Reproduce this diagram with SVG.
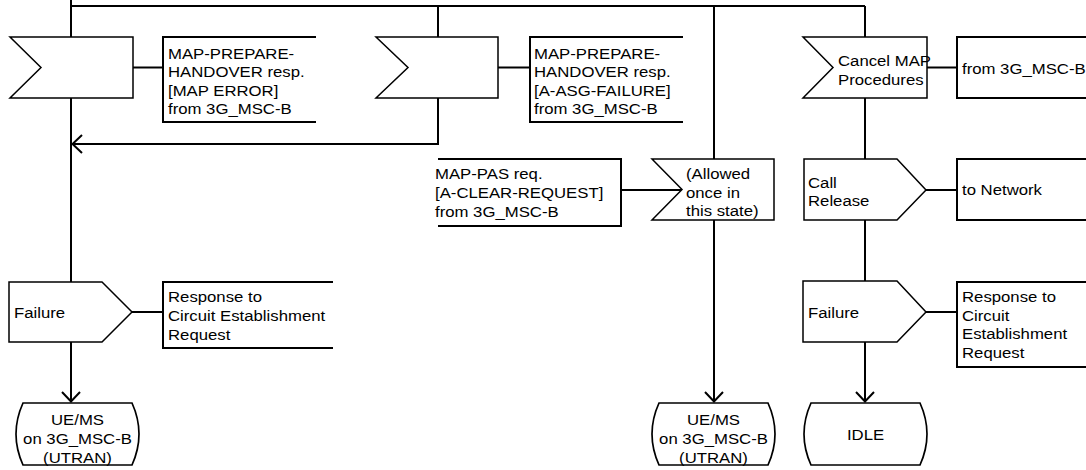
<svg xmlns="http://www.w3.org/2000/svg" width="1086" height="470" viewBox="0 0 1086 470">
  <style>
    .t { font-family: "Liberation Sans", Arial, Helvetica, sans-serif; font-size: 15.5px; fill: #000; }
    .c { text-anchor: middle; }
    .shape { fill: #fff; stroke: #000; stroke-width: 1.5; stroke-linejoin: miter; }
    .state { fill: #fff; stroke: #000; stroke-width: 1.7; }
    .line { fill: none; stroke: #000; stroke-width: 2; }
    .note { fill: none; stroke: #000; stroke-width: 2; }
  </style>
  <defs>
    <marker id="open-arrow" markerUnits="userSpaceOnUse" viewBox="0 0 12 20" markerWidth="12" markerHeight="20" refX="11" refY="10" orient="auto">
      <path d="M1,1 L10.5,10 L1,19" fill="none" stroke="#000" stroke-width="2"/>
    </marker>
  </defs>
  <rect width="1086" height="470" fill="#fff"/>

  <!-- flow lines -->
  <g id="connectors">
    <path class="line" d="M71,0 V37"/>
    <path class="line" d="M71,6 H865"/>
    <path class="line" d="M438,6 V37"/>
    <path class="line" d="M714,6 V159"/>
    <path class="line" d="M865,6 V37"/>
    <path class="line" d="M71,98 V282"/>
    <path class="line" d="M438,98 V144 H72" marker-end="url(#open-arrow)"/>
    <path class="line" d="M71,342 V402" marker-end="url(#open-arrow)"/>
    <path class="line" d="M714,220 V402" marker-end="url(#open-arrow)"/>
    <path class="line" d="M865,98 V159"/>
    <path class="line" d="M865,220 V281"/>
    <path class="line" d="M865,342 V402" marker-end="url(#open-arrow)"/>
    <!-- comment attachments -->
    <path class="line" d="M133,67.5 H163"/>
    <path class="line" d="M498,67.5 H530"/>
    <path class="line" d="M621,190 H682"/>
    <path class="line" d="M927,67.5 H957"/>
    <path class="line" d="M926,190 H957"/>
    <path class="line" d="M132,312 H163"/>
    <path class="line" d="M926,312 H957"/>
  </g>

  <!-- input: MAP error -->
  <g id="input-map-error">
    <polygon class="shape" points="10,37 133,37 133,98 10,98 41,67.5"/>
  </g>
  <g id="note-map-error">
    <path class="note" d="M316,37 H163 V122 H316"/>
    <text class="t" transform="matrix(1.08 0 0 1 168 59)"><tspan x="0" y="0">MAP-PREPARE-</tspan><tspan x="0" y="18.5">HANDOVER resp.</tspan><tspan x="0" y="37">[MAP ERROR]</tspan><tspan x="0" y="55.5">from 3G_MSC-B</tspan></text>
  </g>

  <!-- input: A-ASG-FAILURE -->
  <g id="input-asg-failure">
    <polygon class="shape" points="376,37 498,37 498,98 376,98 408,67.5"/>
  </g>
  <g id="note-asg-failure">
    <path class="note" d="M683,37 H530 V122 H683"/>
    <text class="t" transform="matrix(1.08 0 0 1 534 59)"><tspan x="0" y="0">MAP-PREPARE-</tspan><tspan x="0" y="18.5">HANDOVER resp.</tspan><tspan x="0" y="37">[A-ASG-FAILURE]</tspan><tspan x="0" y="55.5">from 3G_MSC-B</tspan></text>
  </g>

  <!-- input: MAP-PAS clear request -->
  <g id="note-clear-request">
    <path class="note" d="M438,159 H621 V226 H438"/>
    <text class="t" transform="matrix(1.08 0 0 1 435 179)"><tspan x="0" y="0">MAP-PAS req.</tspan><tspan x="0" y="19">[A-CLEAR-REQUEST]</tspan><tspan x="0" y="38">from 3G_MSC-B</tspan></text>
  </g>
  <g id="input-clear-request">
    <polygon class="shape" points="652,159 774,159 774,220 652,220 682,189.5"/>
    <text class="t" transform="matrix(1.08 0 0 1 686 179)"><tspan x="0" y="0">(Allowed</tspan><tspan x="0" y="19">once in</tspan><tspan x="0" y="37.5">this state)</tspan></text>
  </g>

  <!-- input: Cancel MAP Procedures -->
  <g id="input-cancel-map">
    <polygon class="shape" points="803,37 927,37 927,98 803,98 833,67.5"/>
    <text class="t" transform="matrix(1.08 0 0 1 838 66)"><tspan x="0" y="0">Cancel MAP</tspan><tspan x="0" y="19">Procedures</tspan></text>
  </g>
  <g id="note-cancel-map">
    <path class="note" d="M1087,37 H957 V98 H1087"/>
    <text class="t" transform="matrix(1.08 0 0 1 962 74)">from 3G_MSC-B</text>
  </g>

  <!-- output: Call Release -->
  <g id="output-call-release">
    <polygon class="shape" points="804,159 897,159 926,190 897,220 804,220"/>
    <text class="t" transform="matrix(1.08 0 0 1 808 188)"><tspan x="0" y="0">Call</tspan><tspan x="0" y="18.5">Release</tspan></text>
  </g>
  <g id="note-call-release">
    <path class="note" d="M1087,159 H957 V220 H1087"/>
    <text class="t" transform="matrix(1.08 0 0 1 962 195)">to Network</text>
  </g>

  <!-- output: Failure (left) -->
  <g id="output-failure-left">
    <polygon class="shape" points="9,282 102,282 132,312 102,342 9,342"/>
    <text class="t" transform="matrix(1.08 0 0 1 14 318)">Failure</text>
  </g>
  <g id="note-failure-left">
    <path class="note" d="M333,282 H163 V348 H333"/>
    <text class="t" transform="matrix(1.08 0 0 1 168 302)"><tspan x="0" y="0">Response to</tspan><tspan x="0" y="19">Circuit Establishment</tspan><tspan x="0" y="38">Request</tspan></text>
  </g>

  <!-- output: Failure (right) -->
  <g id="output-failure-right">
    <polygon class="shape" points="803,281 897,281 926,312 897,342 803,342"/>
    <text class="t" transform="matrix(1.08 0 0 1 808 318)">Failure</text>
  </g>
  <g id="note-failure-right">
    <path class="note" d="M1087,282 H957 V367 H1087"/>
    <text class="t" transform="matrix(1.08 0 0 1 962 302)"><tspan x="0" y="0">Response to</tspan><tspan x="0" y="19">Circuit</tspan><tspan x="0" y="37.5">Establishment</tspan><tspan x="0" y="56">Request</tspan></text>
  </g>

  <!-- next states -->
  <g id="state-ue-ms-left">
    <path class="state" d="M23,403 H132 Q146,434 132,465 H23 Q9,434 23,403 Z"/>
    <text class="t c" transform="matrix(1.08 0 0 1 77.5 425)"><tspan x="0" y="0">UE/MS</tspan><tspan x="0" y="19">on 3G_MSC-B</tspan><tspan x="0" y="38">(UTRAN)</tspan></text>
  </g>
  <g id="state-ue-ms-middle">
    <path class="state" d="M659,403 H768 Q782,434 768,465 H659 Q645,434 659,403 Z"/>
    <text class="t c" transform="matrix(1.08 0 0 1 713.5 425)"><tspan x="0" y="0">UE/MS</tspan><tspan x="0" y="19">on 3G_MSC-B</tspan><tspan x="0" y="38">(UTRAN)</tspan></text>
  </g>
  <g id="state-idle">
    <path class="state" d="M811,403 H920 Q934,434 920,465 H811 Q797,434 811,403 Z"/>
    <text class="t c" transform="matrix(1.08 0 0 1 865.5 440)">IDLE</text>
  </g>
</svg>
